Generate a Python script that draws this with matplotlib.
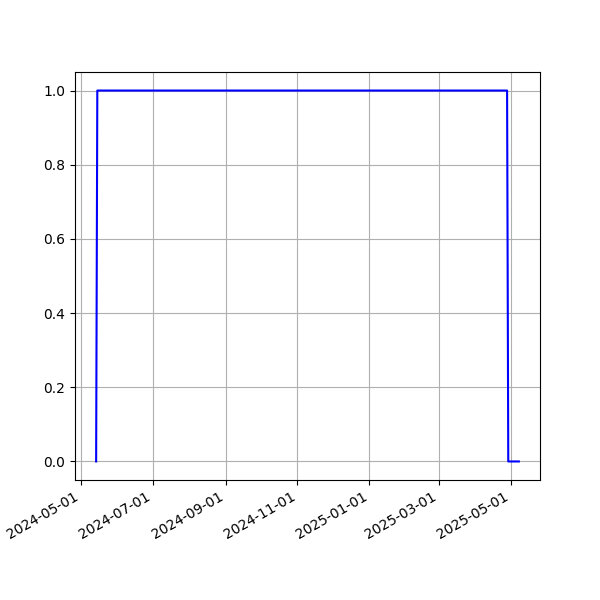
import pandas as pd
import matplotlib
matplotlib.use('Agg')
import matplotlib.pyplot as plt
import matplotlib.dates as mdates

# points where the status changes (daily series, flat in between)
dates = pd.to_datetime(['2024-05-14', '2024-05-15', '2025-04-28', '2025-04-29', '2025-05-08'])
status = [0, 1, 1, 0, 0]

fig, ax = plt.subplots(figsize=(6, 6), dpi=100)
ax.plot(dates, status, color='blue')
ax.grid(True)
ax.xaxis.set_major_locator(mdates.MonthLocator(bymonth=[1, 3, 5, 7, 9, 11]))
ax.xaxis.set_major_formatter(mdates.DateFormatter('%Y-%m-%d'))
fig.autofmt_xdate()

fig.savefig('out.png')
